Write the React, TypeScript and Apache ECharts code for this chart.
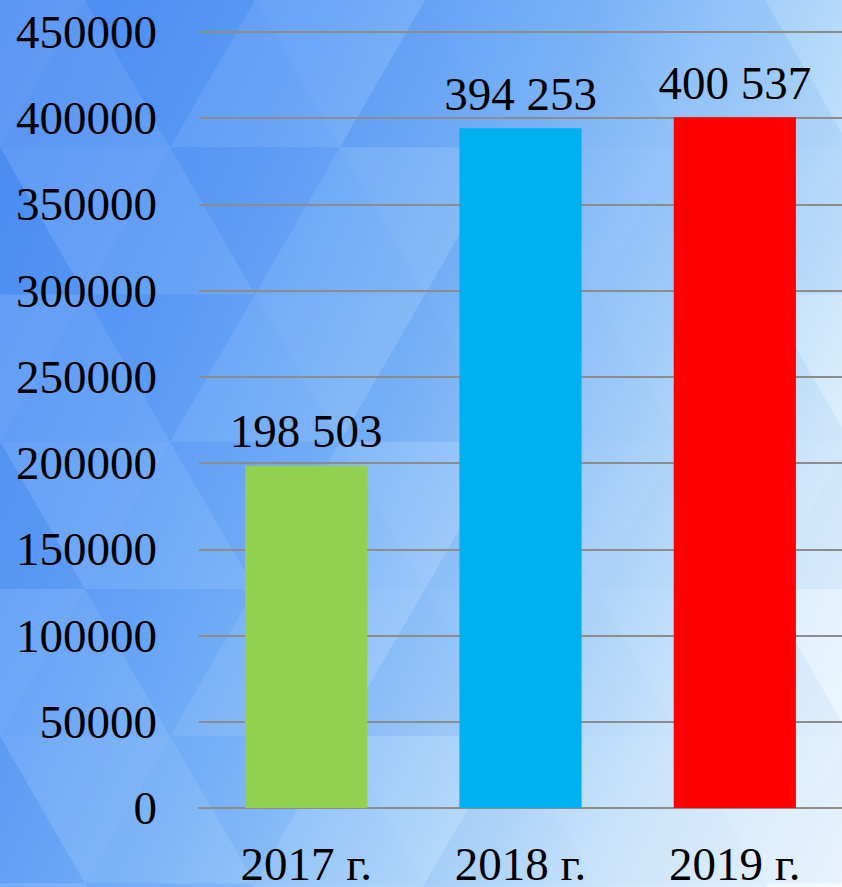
import React, { useEffect, useRef } from "react";
import * as echarts from "echarts";

const categories = ["2017 г.", "2018 г.", "2019 г."];
const values = [198503, 394253, 400537];
const barColors = ["#92D050", "#00B0F0", "#FF0000"];
const yMin = 0;
const yMax = 450000;
const yInterval = 50000;

const FONT = "'Liberation Serif', 'Times New Roman', serif";

function fmt(v: number): string {
  return String(v).replace(/\B(?=(\d{3})+(?!\d))/g, " ");
}

function buildTriangles() {
  const els: any[] = [];
  const side = 170;
  const h = side * 0.866;
  let k = 0;
  for (let row = -1; row < 8; row++) {
    for (let col = -2; col < 8; col++) {
      const x0 = col * side + (row % 2 ? side / 2 : 0);
      const y0 = row * h;
      const up = [[x0, y0 + h], [x0 + side / 2, y0], [x0 + side, y0 + h]];
      const down = [[x0 + side / 2, y0], [x0 + side * 1.5, y0], [x0 + side, y0 + h]];
      k++;
      const a = (k * 37) % 5;
      els.push({
        type: "polygon", silent: true, z: -100,
        shape: { points: up },
        style: { fill: a % 2 ? "rgba(255,255,255,0.07)" : "rgba(30,90,220,0.05)" },
      });
      els.push({
        type: "polygon", silent: true, z: -100,
        shape: { points: down },
        style: { fill: a > 2 ? "rgba(255,255,255,0.10)" : "rgba(40,110,230,0.04)" },
      });
    }
  }
  return els;
}

export default function App() {
  const ref = useRef<HTMLDivElement>(null);
  useEffect(() => {
    if (!ref.current) return;
    const chart = echarts.init(ref.current, null, { renderer: "svg" });
    const labelStyle = { color: "#000", fontFamily: FONT, fontSize: 47 };
    chart.setOption({
      animation: false,
      backgroundColor: "transparent",
      textStyle: { fontFamily: FONT },
      graphic: buildTriangles(),
      grid: { left: 199, right: -2, top: 32, bottom: 78, containLabel: false },
      xAxis: {
        type: "category",
        data: categories,
        axisTick: { show: false },
        axisLine: { show: true, lineStyle: { color: "#8c8c8c", width: 2 } },
        axisLabel: { ...labelStyle, margin: 32 },
      },
      yAxis: {
        type: "value",
        min: yMin,
        max: yMax,
        interval: yInterval,
        axisLine: { show: false },
        axisTick: { show: false },
        splitLine: { show: true, lineStyle: { color: "#8c8c8c", width: 2 } },
        axisLabel: { ...labelStyle, margin: 42, formatter: (v: number) => String(v) },
      },
      series: [
        {
          type: "bar",
          data: values.map((v, i) => ({ value: v, itemStyle: { color: barColors[i] } })),
          barCategoryGap: "43%",
          label: {
            show: true,
            position: "top",
            distance: 11,
            ...labelStyle,
            formatter: (p: any) => "{v|" + fmt(p.value) + "}",
            rich: { v: { ...labelStyle } },
          },
        },
      ],
    });
    return () => chart.dispose();
  }, []);
  return (
    <div
      style={{
        position: "absolute",
        left: 0,
        top: 0,
        width: 842,
        height: 887,
        overflow: "hidden",
        background:
          "linear-gradient(115deg, #4a8bf3 0%, #5c9cf6 25%, #78b2f8 45%, #a6d1fa 65%, #d6ecfc 82%, #f4fbff 100%)",
      }}
    >
      <div ref={ref} style={{ width: 842, height: 887 }} />
    </div>
  );
}
